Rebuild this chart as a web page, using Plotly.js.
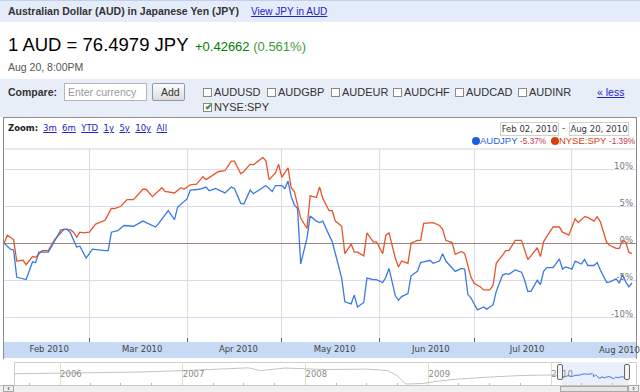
<!DOCTYPE html>
<html>
<head>
<meta charset="utf-8">
<script src="https://cdn.plot.ly/plotly-3.0.1.min.js"></script>
<style>
  html,body{margin:0;padding:0;}
  body{width:640px;height:392px;overflow:hidden;background:#fff;position:relative;font-family:"Liberation Sans",Arial,sans-serif;}
  .abs{position:absolute;white-space:nowrap;}
  .cb{position:absolute;width:9px;height:9px;border:1px solid #8a8a8a;background:#fff;box-sizing:border-box;}
  .cbl{position:absolute;font-size:11px;color:#333;line-height:12px;}
  .zl{color:#2222cc;text-decoration:underline;}
  #chart{position:absolute;left:0;top:0;width:640px;height:392px;z-index:1;}
  .ov{z-index:2;}
</style>
</head>
<body>
<!-- header -->
<div class="abs" style="left:0;top:0;width:640px;height:22px;background:#e5ecf9;border-top:1px solid #c3d0ea;box-sizing:border-box;"></div>
<div class="abs" style="left:8px;top:5px;font-size:10.5px;font-weight:bold;color:#333;line-height:13px;">Australian Dollar (AUD) in Japanese Yen (JPY)</div>
<div class="abs zl" style="left:251px;top:6px;font-size:10px;line-height:12px;color:#2222cc;">View JPY in AUD</div>

<div class="abs" style="left:8px;top:34px;font-size:18.5px;color:#000;line-height:22px;">1 AUD = 76.4979 JPY</div>
<div class="abs" style="left:195px;top:39px;font-size:13px;line-height:15px;"><span style="color:#008000;">+0.42662</span> <span style="color:#3c9a3c;">(0.561%)</span></div>
<div class="abs" style="left:8px;top:61px;font-size:10.5px;color:#555;line-height:12px;">Aug 20, 8:00PM</div>

<!-- compare bar -->
<div class="abs" style="left:0;top:79px;width:640px;height:38px;background:#e8eef8;"></div>
<div class="abs" style="left:8px;top:86px;font-size:10.5px;font-weight:bold;color:#333;line-height:12px;">Compare:</div>
<div class="abs" style="left:64px;top:83px;width:83px;height:18px;border:1px solid #b5b5b5;background:#fff;box-sizing:border-box;"></div>
<div class="abs" style="left:68px;top:86px;font-size:10.5px;color:#999;line-height:12px;">Enter currency</div>
<div class="abs" style="left:152px;top:83px;width:33px;height:18px;border:1px solid #8d99b0;background:linear-gradient(#fbfbfb,#dcdcdc);box-sizing:border-box;border-radius:2px;"></div>
<div class="abs" style="left:161px;top:86px;font-size:10.5px;color:#333;line-height:12px;">Add</div>

<div class="cb" style="left:203px;top:88px;"></div><div class="cbl" style="left:214px;top:86px;">AUDUSD</div>
<div class="cb" style="left:267px;top:88px;"></div><div class="cbl" style="left:278px;top:86px;">AUDGBP</div>
<div class="cb" style="left:331px;top:88px;"></div><div class="cbl" style="left:342px;top:86px;">AUDEUR</div>
<div class="cb" style="left:393px;top:88px;"></div><div class="cbl" style="left:404px;top:86px;">AUDCHF</div>
<div class="cb" style="left:455px;top:88px;"></div><div class="cbl" style="left:466px;top:86px;">AUDCAD</div>
<div class="cb" style="left:518px;top:88px;"></div><div class="cbl" style="left:529px;top:86px;">AUDINR</div>
<div class="abs zl" style="left:597px;top:86px;font-size:10.5px;line-height:12px;">« less</div>
<div class="cb" style="left:203px;top:103px;"><div style="position:absolute;left:1px;top:-2px;font-size:9px;color:#2a8a2a;font-weight:bold;line-height:10px;">✔</div></div>
<div class="cbl" style="left:214px;top:101px;">NYSE:SPY</div>

<!-- chart box -->
<div class="abs" style="left:3px;top:117px;width:634px;height:242px;border:1px solid #8c8c8c;border-bottom:none;box-sizing:border-box;background:#fff;"></div>
<div class="abs ov" style="left:8px;top:123px;font-family:'DejaVu Sans';font-size:8.5px;font-weight:bold;color:#222;line-height:11px;">Zoom:</div>
<div class="abs ov" style="left:43px;top:123px;font-family:'DejaVu Sans';font-size:8.5px;line-height:11px;">
<span class="zl">3m</span>&nbsp; <span class="zl">6m</span>&nbsp; <span class="zl">YTD</span>&nbsp; <span class="zl">1y</span>&nbsp; <span class="zl">5y</span>&nbsp; <span class="zl">10y</span>&nbsp; <span class="zl">All</span></div>
<div class="abs ov" style="left:500px;top:122px;width:59px;height:14px;border:1px solid #d0d0d0;box-sizing:border-box;font-family:'DejaVu Sans';font-size:8.5px;color:#333;line-height:12px;text-align:center;">Feb 02, 2010</div>
<div class="abs ov" style="left:562px;top:122px;font-family:'DejaVu Sans';font-size:8.5px;color:#333;line-height:12px;">-</div>
<div class="abs ov" style="left:569px;top:122px;width:60px;height:14px;border:1px solid #d0d0d0;box-sizing:border-box;font-family:'DejaVu Sans';font-size:8.5px;color:#333;line-height:12px;text-align:center;">Aug 20, 2010</div>
<div class="abs ov" style="left:472px;top:135px;font-size:9.5px;line-height:11px;">
<span style="display:inline-block;width:8px;height:8px;border-radius:50%;background:#1a5fe0;vertical-align:-1px;"></span><span style="color:#1a5fe0;">AUDJPY</span> <span style="color:#cc3344;font-size:8.3px;">-5.37%</span>
<span style="display:inline-block;width:8px;height:8px;border-radius:50%;background:#d8400e;vertical-align:-1px;margin-left:2px;"></span><span style="color:#d8400e;">NYSE:SPY</span> <span style="color:#cc3344;font-size:8.3px;">-1.39%</span></div>

<!-- navigator decorations -->
<div class="abs" style="left:14px;top:362px;width:623px;height:24px;border:1px solid #cfcfcf;box-sizing:border-box;background:#fff;"></div>
<div class="abs" style="left:562px;top:362px;width:67px;height:24px;background:#e9f0fb;"></div>
<div class="abs" style="left:0;top:385px;width:640px;height:7px;background:#f0f0f0;border-top:1px solid #c8c8c8;box-sizing:border-box;"></div>

<div id="chart"></div>

<div class="abs ov" style="left:557px;top:364px;width:6px;height:16px;border:1px solid #666;border-radius:2px;background:#f4f4f4;box-sizing:border-box;"></div>
<div class="abs ov" style="left:624px;top:364px;width:6px;height:16px;border:1px solid #666;border-radius:2px;background:#f4f4f4;box-sizing:border-box;"></div>
<div class="abs ov" style="left:560px;top:386px;width:68px;height:6px;border:1px solid #a8a8a8;background:#e4e4e4;box-sizing:border-box;"></div>
<div class="abs ov" style="left:3px;top:385px;width:11px;height:7px;border:1px solid #a8a8a8;background:#eee;box-sizing:border-box;font-size:8px;line-height:6px;color:#222;text-align:center;">‹</div>
<div class="abs ov" style="left:628px;top:385px;width:11px;height:7px;border:1px solid #a8a8a8;background:#eee;box-sizing:border-box;font-size:8px;line-height:6px;color:#222;text-align:center;">›</div>

<script>
// ---- data (percent change since Feb 02, 2010) ----
const audDates = ['2010-02-02','2010-02-04','2010-02-05','2010-02-06','2010-02-09','2010-02-11','2010-02-12','2010-02-13','2010-02-16','2010-02-18','2010-02-20','2010-02-22','2010-02-23','2010-02-25','2010-02-26','2010-02-28',
'2010-03-02','2010-03-06','2010-03-07','2010-03-08','2010-03-10','2010-03-12','2010-03-14','2010-03-15','2010-03-18','2010-03-20','2010-03-22','2010-03-23','2010-03-26','2010-03-28','2010-03-29',
'2010-04-01','2010-04-02','2010-04-05','2010-04-07','2010-04-08','2010-04-10','2010-04-13','2010-04-15','2010-04-16','2010-04-18','2010-04-19','2010-04-21','2010-04-22','2010-04-24','2010-04-26','2010-04-28','2010-04-29',
'2010-05-01','2010-05-02','2010-05-03','2010-05-04','2010-05-05','2010-05-06','2010-05-07','2010-05-09','2010-05-10','2010-05-12','2010-05-13','2010-05-14','2010-05-16','2010-05-17','2010-05-18','2010-05-20','2010-05-21','2010-05-23','2010-05-24','2010-05-25','2010-05-27','2010-05-28','2010-05-30','2010-05-31',
'2010-06-02','2010-06-03','2010-06-04','2010-06-06','2010-06-07','2010-06-08','2010-06-10','2010-06-11','2010-06-13','2010-06-14','2010-06-15','2010-06-17','2010-06-18','2010-06-20','2010-06-21','2010-06-22','2010-06-25','2010-06-27','2010-06-28','2010-06-29','2010-06-30',
'2010-07-02','2010-07-04','2010-07-05','2010-07-07','2010-07-08','2010-07-10','2010-07-11','2010-07-12','2010-07-14','2010-07-16','2010-07-17','2010-07-18','2010-07-19','2010-07-21','2010-07-22','2010-07-23','2010-07-24','2010-07-26','2010-07-28','2010-07-29','2010-07-30',
'2010-08-01','2010-08-02','2010-08-04','2010-08-05','2010-08-06','2010-08-08','2010-08-09','2010-08-10','2010-08-12','2010-08-13','2010-08-15','2010-08-16','2010-08-17','2010-08-18','2010-08-19','2010-08-20'];
const audPct = [0,-0.8,-0.9,-4.6,-4.9,-2.5,-2.6,-1.2,-1.2,0.4,1.8,1.9,1.4,-0.5,-0.4,-2.0,
-0.8,-1.0,-1.0,1.5,1.7,2.4,2.4,2.3,3.0,2.6,2.2,2.7,4.4,3.2,4.9,
6.0,7.2,7.3,7.6,7.1,7.4,6.8,7.6,7.4,5.4,5.3,7.2,6.7,7.3,7.8,7.0,7.8,
7.8,7.4,8.4,6.3,5.2,4.7,-2.8,0.7,3.7,3.0,2.8,3.0,1.1,0.2,-1.4,-4.7,-7.9,-8.2,-7.0,-8.6,-8.0,-4.7,-4.9,-4.9,
-5.3,-4.6,-3.4,-7.1,-7.7,-7.2,-6.8,-4.4,-3.8,-2.6,-2.5,-2.3,-2.7,-2.4,-1.4,-2.4,-3.8,-3.4,-3.5,-6.9,-7.4,
-9.0,-8.6,-8.9,-8.3,-6.5,-4.3,-4.1,-4.2,-3.6,-3.9,-5.0,-6.5,-6.5,-5.0,-5.6,-3.8,-3.3,-3.3,-2.1,-3.5,-3.2,
-3.5,-2.4,-2.8,-2.2,-3.0,-3.0,-2.6,-3.6,-5.3,-5.2,-4.8,-5.4,-4.2,-5.2,-5.9,-5.37];

const spyDates = ['2010-02-02','2010-02-03','2010-02-05','2010-02-06','2010-02-08','2010-02-09','2010-02-11','2010-02-12','2010-02-14','2010-02-16','2010-02-18','2010-02-20','2010-02-21','2010-02-23','2010-02-24','2010-02-25','2010-02-26','2010-02-27',
'2010-03-01','2010-03-03','2010-03-04','2010-03-06','2010-03-08','2010-03-09','2010-03-11','2010-03-13','2010-03-15','2010-03-18','2010-03-19','2010-03-21','2010-03-24','2010-03-25','2010-03-28','2010-03-30','2010-03-31',
'2010-04-02','2010-04-04','2010-04-06','2010-04-07','2010-04-11','2010-04-13','2010-04-15','2010-04-16','2010-04-18','2010-04-19','2010-04-21','2010-04-22','2010-04-23','2010-04-25','2010-04-26','2010-04-27','2010-04-29','2010-04-30',
'2010-05-01','2010-05-03','2010-05-04','2010-05-05','2010-05-07','2010-05-09','2010-05-10','2010-05-12','2010-05-13','2010-05-14','2010-05-16','2010-05-17','2010-05-18','2010-05-20','2010-05-21','2010-05-23','2010-05-24','2010-05-25','2010-05-27','2010-05-28','2010-05-30','2010-05-31',
'2010-06-02','2010-06-03','2010-06-04','2010-06-06','2010-06-07','2010-06-08','2010-06-10','2010-06-11','2010-06-13','2010-06-14','2010-06-15','2010-06-18','2010-06-20','2010-06-21','2010-06-22','2010-06-24','2010-06-25','2010-06-27','2010-06-28','2010-06-30',
'2010-07-01','2010-07-03','2010-07-04','2010-07-06','2010-07-07','2010-07-08','2010-07-10','2010-07-11','2010-07-12','2010-07-14','2010-07-16','2010-07-18','2010-07-19','2010-07-21','2010-07-22','2010-07-23','2010-07-24','2010-07-26','2010-07-28','2010-07-29','2010-07-31',
'2010-08-02','2010-08-03','2010-08-05','2010-08-06','2010-08-08','2010-08-09','2010-08-10','2010-08-12','2010-08-13','2010-08-15','2010-08-16','2010-08-17','2010-08-18','2010-08-19','2010-08-20'];
const spyPct = [0,1.1,0.5,-2.4,-2.3,-2.9,-1.8,-1.9,-1.0,-1.0,0.5,1.5,1.9,1.8,1.5,0.8,1.5,1.4,
1.5,2.6,2.8,3.1,4.7,4.7,5.0,5.9,5.9,7.3,7.3,6.3,7.5,7.0,6.8,7.5,7.3,
7.9,8.0,9.0,8.6,9.7,9.8,11.1,11.1,9.4,9.7,10.7,10.6,10.9,11.6,11.1,8.6,9.5,10.7,
8.9,10.2,7.5,7.0,3.4,2.0,6.4,6.2,7.6,6.1,4.4,4.4,3.0,2.3,-1.4,-0.1,-1.2,-1.2,-1.7,1.4,0.2,0.2,
-1.4,1.1,1.4,-2.0,-3.2,-2.4,-2.7,0.0,0.4,0.4,2.7,2.8,2.4,1.9,0.4,0.1,-1.5,-1.1,-1.4,-4.6,
-5.4,-5.9,-6.3,-6.3,-5.6,-2.7,-1.6,-1.0,-1.0,0.4,0.4,-2.2,-1.7,-0.6,-1.8,0.2,0.9,2.2,2.2,1.5,1.1,
3.3,2.8,3.6,3.5,3.0,3.6,2.9,0.1,-0.3,-0.7,-0.7,0.4,0.2,-1.2,-1.39];

// navigator: long-run AUD/JPY level (approximate, read from the overview strip)
const navDates = ['2005-08-17','2006-03-01','2006-09-01','2007-01-01','2007-05-01','2007-07-15','2007-08-20','2007-11-01','2008-03-01','2008-07-01','2008-09-01','2008-10-01','2008-10-24','2008-12-15','2009-02-01','2009-04-01','2009-07-01','2009-10-01','2010-01-01','2010-02-02'];
const navPrice = [87.6,89.6,92.5,96.5,102.6,104.6,96.5,104,99.7,101,96.8,81,58,59.4,66.6,72.4,78,82.4,83.9,80.8];

const yTickVals = [-10,-5,0,5,10];
const yTickText = ['-10%','-5%','0%','5%','10%'];
const seriesNames = ['AUDJPY','NYSE:SPY'];
const lastMonthLabel = 'Aug 2010';
const lastMonthMid = '2010-08-16';

// ---- layout geometry ----
const W = 640, H = 392;
const px = v => v / W, py = v => (H - v) / H;

const blue = '#3a78e2', red = '#e5552c';

const traces = [
  {x: spyDates, y: spyPct, name: seriesNames[1], type: 'scatter', mode: 'lines', line: {color: red, width: 1.3}, xaxis: 'x', yaxis: 'y', hoverinfo: 'skip'},
  {x: audDates, y: audPct, name: seriesNames[0], type: 'scatter', mode: 'lines', line: {color: blue, width: 1.3}, xaxis: 'x', yaxis: 'y', hoverinfo: 'skip'},
  {x: navDates, y: navPrice, type: 'scatter', mode: 'lines', line: {color: '#c4c4c4', width: 1}, xaxis: 'x2', yaxis: 'y2', hoverinfo: 'skip'},
  {x: audDates, y: audPct, type: 'scatter', mode: 'lines', line: {color: blue, width: 1}, xaxis: 'x2', yaxis: 'y3', hoverinfo: 'skip'}
];

const layout = {
  width: W, height: H,
  margin: {l: 0, r: 0, t: 0, b: 0, pad: 0},
  paper_bgcolor: 'rgba(0,0,0,0)', plot_bgcolor: 'rgba(0,0,0,0)',
  showlegend: false,
  xaxis: {
    domain: [px(4), px(636)], anchor: 'y', type: 'date',
    range: ['2010-02-01 23:00', '2010-08-21 07:00'],
    tick0: '2010-01-01', dtick: 'M1', tickformat: '%b %Y', ticklabelmode: 'period', ticklabelshift: 4,
    showgrid: true, gridcolor: '#dcdcdc', gridwidth: 1,
    ticks: 'inside', ticklen: 4, tickcolor: '#666', tickwidth: 1,
    tickfont: {family: 'DejaVu Sans', size: 8.5, color: '#444'},
    zeroline: false, showline: false, fixedrange: true
  },
  yaxis: {
    domain: [py(342), py(149)], anchor: 'x', side: 'right',
    range: [-13.34, 12.74],
    tickvals: yTickVals, ticktext: yTickText,
    ticklabelposition: 'inside', ticks: '', ticklabelshift: -3, ticklabelstandoff: 0,
    tickfont: {family: 'DejaVu Sans', size: 8.5, color: '#777'},
    showgrid: true, gridcolor: '#d9d9ef', gridwidth: 1,
    zeroline: true, zerolinecolor: '#9c8383', zerolinewidth: 1,
    showline: false, fixedrange: true
  },
  xaxis2: {
    domain: [px(14), px(636)], anchor: 'y2', type: 'date',
    range: ['2005-08-17', '2010-09-10'],
    dtick: 'M12', tick0: '2006-01-01', tickformat: '%Y',
    ticklabelposition: 'inside right', ticks: '',
    tickfont: {family: 'DejaVu Sans', size: 8.5, color: '#8a8a8a'},
    showgrid: true, gridcolor: '#d6e4c6', gridwidth: 1,
    minor: {dtick: 'M3', ticks: 'inside', ticklen: 2, tickcolor: '#bbb', showgrid: false},
    zeroline: false, showline: false, fixedrange: true
  },
  yaxis2: {
    domain: [py(385), py(362)], anchor: 'x2', range: [55.1, 121.4],
    showgrid: false, showticklabels: false, ticks: '', zeroline: false, fixedrange: true
  },
  yaxis3: {
    domain: [py(385), py(362)], anchor: 'x2', overlaying: 'y2', range: [-32, 49.8],
    showgrid: false, showticklabels: false, ticks: '', zeroline: false, fixedrange: true
  },
  shapes: [
    {type: 'rect', xref: 'paper', yref: 'paper', x0: px(4), x1: px(636), y0: py(358), y1: py(342),
     fillcolor: '#c6daf5', line: {width: 0}, layer: 'below'},
    {type: 'line', xref: 'paper', yref: 'paper', x0: px(4), x1: px(636), y0: py(149), y1: py(149),
     line: {color: '#d4d4d4', width: 1}}
  ],
  annotations: [
    {xref: 'x', yref: 'paper', x: lastMonthMid, y: py(350), text: lastMonthLabel, showarrow: false,
     xanchor: 'center', yanchor: 'middle', font: {family: 'DejaVu Sans', size: 8.5, color: '#444'}}
  ]
};

Plotly.newPlot('chart', traces, layout, {staticPlot: true, displayModeBar: false});
</script>
</body>
</html>
